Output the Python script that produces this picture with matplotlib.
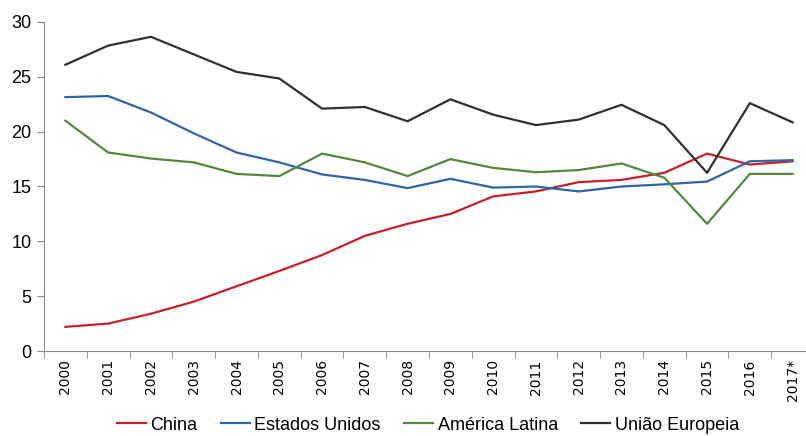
import matplotlib
matplotlib.use('Agg')
import matplotlib.pyplot as plt

years = ['2000', '2001', '2002', '2003', '2004', '2005', '2006', '2007', '2008',
         '2009', '2010', '2011', '2012', '2013', '2014', '2015', '2016', '2017*']
china = [2.2, 2.5, 3.4, 4.5, 5.9, 7.3, 8.75, 10.5, 11.6, 12.5, 14.1, 14.55,
         15.4, 15.6, 16.25, 18.0, 17.0, 17.3]
eua = [23.15, 23.25, 21.75, 19.85, 18.1, 17.2, 16.1, 15.6, 14.85, 15.7, 14.9,
       15.0, 14.55, 15.0, 15.2, 15.45, 17.3, 17.4]
al = [21.0, 18.1, 17.55, 17.2, 16.15, 15.95, 18.0, 17.2, 15.95, 17.5, 16.7,
      16.3, 16.5, 17.1, 15.8, 11.6, 16.15, 16.15]
ue = [26.1, 27.85, 28.65, 27.05, 25.45, 24.85, 22.1, 22.25, 20.95, 22.95,
      21.55, 20.6, 21.1, 22.45, 20.6, 16.25, 22.6, 20.85]

series = [('China', china, '#C8202A'),
          ('Estados Unidos', eua, '#2E64A8'),
          ('América Latina', al, '#4F8A3B'),
          ('União Europeia', ue, '#303030')]

fam = ['Liberation Sans', 'DejaVu Sans']

fig = plt.figure(figsize=(8.06, 4.36), dpi=100)
ax = fig.add_axes([44/806, 85/436, 770/806, 329/436])

x = list(range(len(years)))
for name, vals, col in series:
    ax.plot(x, vals, color=col, linewidth=1.6, label=name)

ax.set_xlim(-0.5, len(years) - 0.5)
ax.set_ylim(0, 30)
ax.set_yticks([0, 5, 10, 15, 20, 25, 30])
ax.set_xticks(x)
ax.set_xticklabels(years, rotation=90, fontsize=10)
ax.set_xticks([i - 0.5 for i in range(len(years) + 1)], minor=True)
ax.tick_params(axis='x', which='major', length=0, pad=6)
ax.tick_params(axis='x', which='minor', length=5, color='#888888')
ax.tick_params(axis='y', length=5, color='#888888', pad=4)
for lab in ax.get_yticklabels():
    lab.set_family(fam)
    lab.set_fontsize(13)

for s in ['top', 'right']:
    ax.spines[s].set_visible(False)
for s in ['left', 'bottom']:
    ax.spines[s].set_color('#888888')

leg = fig.legend(loc='center', bbox_to_anchor=(428/806, 11/436), ncol=4,
                 frameon=False, prop={'family': fam, 'size': 13},
                 handlelength=1.6, handletextpad=0.25, columnspacing=1.3)

fig.savefig('out.png', dpi=100)
